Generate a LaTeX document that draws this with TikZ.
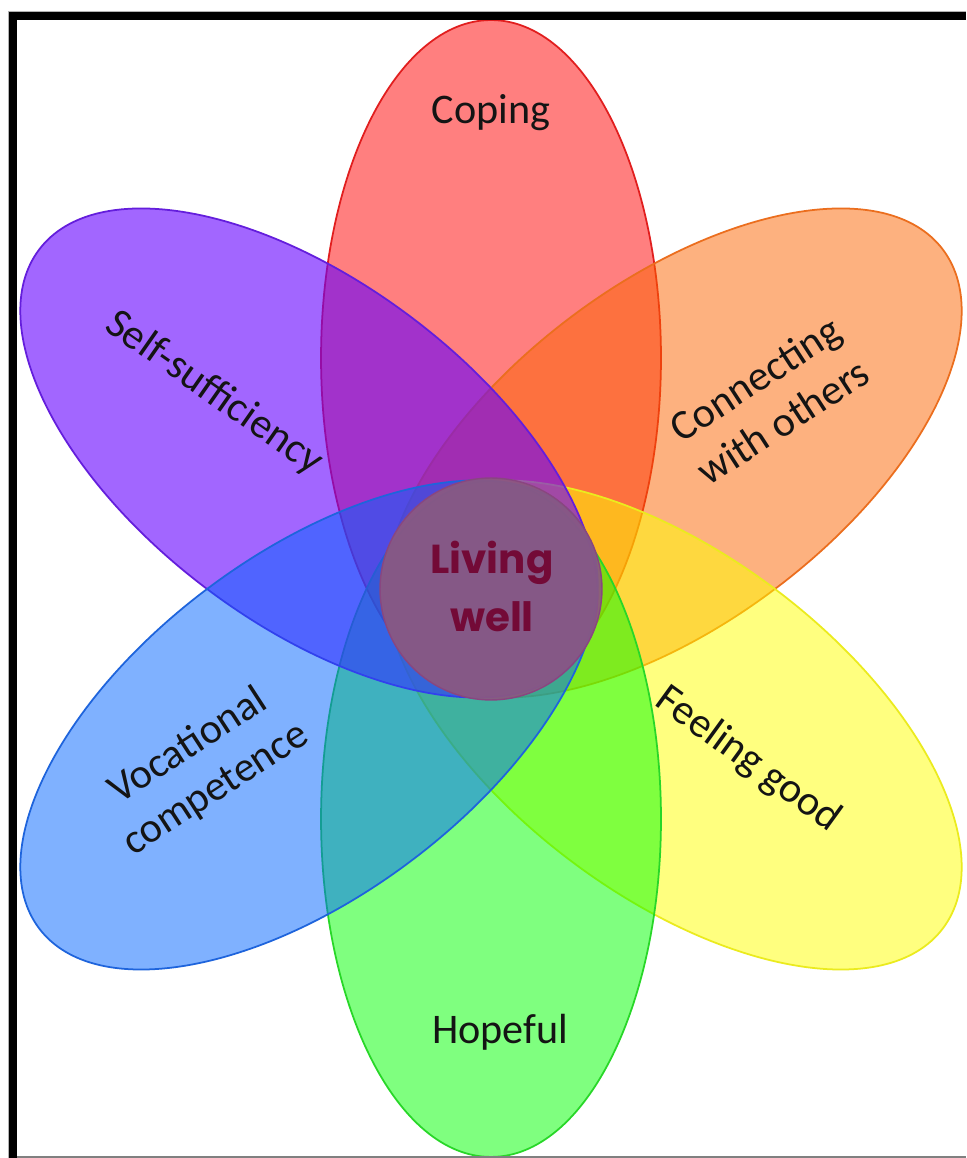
\documentclass[tikz,border=0pt]{standalone}
\usepackage{fontspec}
\setmainfont{Carlito}
\newfontfamily\geofont{Poppins}
\usetikzlibrary{shapes.geometric}
\definecolor{cRed}{RGB}{255,0,0}
\definecolor{cOrange}{RGB}{252,100,0}
\definecolor{cYellow}{RGB}{255,255,0}
\definecolor{cGreen}{RGB}{0,255,0}
\definecolor{cBlue}{RGB}{0,100,255}
\definecolor{cPurple}{RGB}{100,0,255}
\definecolor{sRed}{RGB}{225,30,30}
\definecolor{sOrange}{RGB}{235,110,30}
\definecolor{sYellow}{RGB}{235,235,30}
\definecolor{sGreen}{RGB}{40,215,40}
\definecolor{sBlue}{RGB}{30,100,220}
\definecolor{sPurple}{RGB}{100,30,220}
\definecolor{centerFill}{RGB}{140,88,128}
\definecolor{centerText}{RGB}{115,10,55}
\definecolor{txt}{RGB}{20,20,20}
\begin{document}
\begin{tikzpicture}[x=0.02cm,y=0.02cm,
  petal/.style={ellipse, inner sep=0pt, minimum width=13.52cm, minimum height=6.8cm, line width=1pt, fill opacity=0.5},
  lbl/.style={font=\fontsize{24}{29}\selectfont, text=txt, align=center, inner sep=0pt}]
\useasboundingbox (0,0) rectangle (966,1158);
\fill[white] (0,0) rectangle (966,1158);
% petals
\node[petal, fill=cRed, draw=sRed, rotate=90] (pRed) at (491,800) {};
\node[petal, fill=cOrange, draw=sOrange, rotate=37] (pOrange) at (673,705) {};
\node[petal, fill=cYellow, draw=sYellow, rotate=-37] (pYellow) at (673,433) {};
\node[petal, fill=cGreen, draw=sGreen, rotate=90] (pGreen) at (491,339) {};
\node[petal, fill=cPurple, draw=sPurple, rotate=-37, fill opacity=0.6] (pPurple) at (309,705) {};
\node[petal, fill=cBlue, draw=sBlue, rotate=37] (pBlue) at (309,433) {};
% center
\node[circle, minimum size=4.44cm, inner sep=0pt, fill=centerFill, fill opacity=0.92, draw=centerFill!80!violet, line width=0.8pt] (center) at (491,569) {};
\node[font=\geofont\fontsize{23}{33}\selectfont\bfseries, text=centerText, align=center] (centerLbl) at (492,572) {Living\\well};
% labels
\node[lbl] (tCoping) at (491,1045) {Coping};
\node[lbl] (tHopeful) at (500,126) {Hopeful};
\node[lbl, rotate=-35] (tSelf) at (214,765) {Self-sufficiency};
\node[lbl, rotate=33] (tConn) at (769,758) {Connecting\\with others};
\node[lbl, rotate=-36] (tFeel) at (748,398) {Feeling good};
\node[lbl, rotate=33] (tVoc) at (202,390) {Vocational\\competence};
% border
\draw[gray!60, line width=0.5pt] (8,0) -- (8,1147) -- (966,1147);
\fill[black] (9,0) rectangle (17,1146);
\fill[black] (9,1138) rectangle (966,1146);
\draw[gray, line width=1pt] (17,1) -- (966,1);
\end{tikzpicture}
\end{document}
